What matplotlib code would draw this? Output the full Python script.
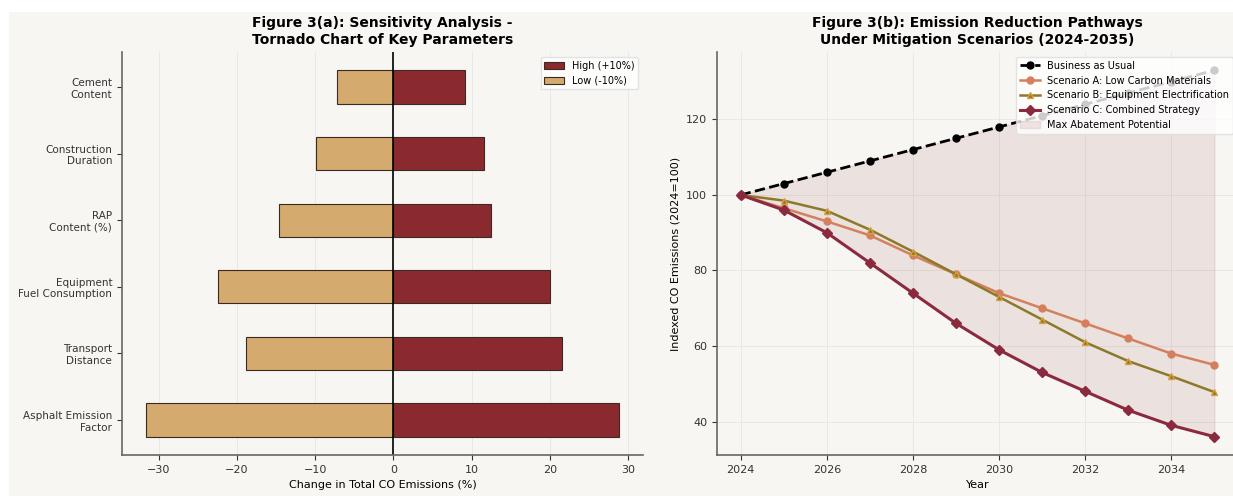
import matplotlib
matplotlib.use("Agg")
import matplotlib.pyplot as plt
from matplotlib.patches import Rectangle
import numpy as np

# tornado data
params = ['Asphalt Emission\nFactor', 'Transport\nDistance', 'Equipment\nFuel Consumption',
          'RAP\nContent (%)', 'Construction\nDuration', 'Cement\nContent']
low_vals = [-31.7, -18.9, -22.5, -14.6, -9.9, -7.2]
high_vals = [28.9, 21.6, 20.0, 12.5, 11.6, 9.1]

# pathway data
years = list(range(2024, 2036))
bau = [100, 103, 106, 109, 112, 115, 118, 121, 124, 127, 130, 133]
scen_a = [100, 96.5, 93, 89.3, 84, 79, 74, 70, 66, 62, 58, 55]
scen_b = [100, 98.5, 95.8, 90.8, 85, 79, 73, 67, 61, 56, 52, 47.8]
scen_c = [100, 96, 90, 82, 74, 66, 59, 53, 48, 43, 39, 36]

bg = '#f7f6f2'
dark_red = '#8b2a2e'
tan = '#d4aa6e'

plt.rcParams['font.family'] = 'DejaVu Sans'
fig = plt.figure(figsize=(12.33, 4.96), dpi=100)
fig.patch.set_facecolor('white')
# off-white panel with a thin white margin on top and left
fig.patches.append(Rectangle((9 / 1233, 0), 1, (496 - 12) / 496, transform=fig.transFigure,
                             facecolor=bg, edgecolor='none', zorder=-10))

ax1 = fig.add_axes([0.0989, 0.0827, 0.4226, 0.8125])
ax2 = fig.add_axes([0.5815, 0.0827, 0.4226, 0.8125])

for ax in (ax1, ax2):
    ax.set_facecolor(bg)
    ax.spines['top'].set_visible(False)
    ax.spines['right'].set_visible(False)
    ax.spines['left'].set_color('#666666')
    ax.spines['bottom'].set_color('#666666')
    ax.spines['left'].set_linewidth(1.2)
    ax.spines['bottom'].set_linewidth(1.2)
    ax.tick_params(labelsize=8, colors='#333333')
    ax.grid(True, color='#e6e6e2', linewidth=0.6)
    ax.set_axisbelow(True)

# tornado chart
ypos = np.arange(len(params))
ax1.barh(ypos, high_vals, height=0.5, color=dark_red, edgecolor='#3a2a20',
         linewidth=0.8, label='High (+10%)')
ax1.barh(ypos, low_vals, height=0.5, color=tan, edgecolor='#3a2a20',
         linewidth=0.8, label='Low (-10%)')
ax1.axvline(0, color='black', linewidth=1.2)
ax1.set_yticks(ypos)
ax1.set_yticklabels(params, fontsize=7.5)
ax1.grid(axis='y', visible=False)
ax1.set_xlabel('Change in Total CO Emissions (%)', fontsize=8)
ax1.set_title('Figure 3(a): Sensitivity Analysis -\nTornado Chart of Key Parameters',
              fontsize=10, fontweight='bold')
ax1.legend(loc='upper right', fontsize=7, framealpha=0.8, edgecolor='#dddddd')

# pathways
ax2.fill_between(years, scen_c, bau, color=dark_red, alpha=0.1,
                 label='Max Abatement Potential')
ax2.plot(years, bau, 'k--', marker='o', markersize=5, linewidth=2, label='Business as Usual')
ax2.plot(years, scen_a, color='#d4805e', marker='o', markersize=5, linewidth=1.8,
         label='Scenario A: Low Carbon Materials')
ax2.plot(years, scen_b, color='#8c7a2a', marker='^', markersize=5, linewidth=1.8,
         markeredgecolor='#d8a040', label='Scenario B: Equipment Electrification')
ax2.plot(years, scen_c, color='#8b2a3e', marker='D', markersize=5, linewidth=2.2,
         label='Scenario C: Combined Strategy')
ax2.set_xlabel('Year', fontsize=8)
ax2.set_ylabel('Indexed CO Emissions (2024=100)', fontsize=8)
ax2.set_title('Figure 3(b): Emission Reduction Pathways\nUnder Mitigation Scenarios (2024-2035)',
              fontsize=10, fontweight='bold')
handles, labels = ax2.get_legend_handles_labels()
order = [1, 2, 3, 4, 0]
ax2.legend([handles[i] for i in order], [labels[i] for i in order],
           loc='upper right', fontsize=7, framealpha=0.8, edgecolor='#dddddd')

fig.savefig('out.png', dpi=100, facecolor='white')
